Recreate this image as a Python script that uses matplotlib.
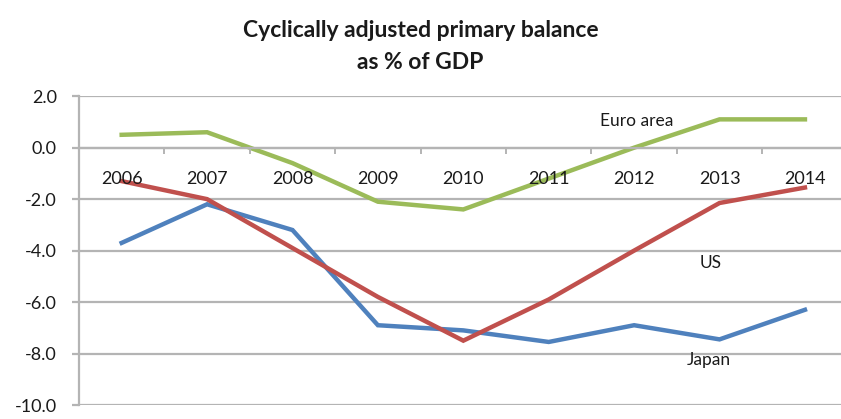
import numpy as np
import matplotlib
matplotlib.use('Agg')
import matplotlib.pyplot as plt

plt.rcParams['font.family'] = ['Lato', 'DejaVu Sans']

# Dane
years = ['2006', '2007', '2008', '2009', '2010', '2011', '2012', '2013', '2014']
euro_area = [0.5, 0.6, -0.6, -2.1, -2.4, -1.2, 0.0, 1.1, 1.1]
us = [-1.3, -2.0, -3.9, -5.8, -7.5, -5.9, -4.0, -2.15, -1.55]
japan = [-3.7, -2.2, -3.2, -6.9, -7.1, -7.55, -6.9, -7.45, -6.3]
yticks = [2.0, 0.0, -2.0, -4.0, -6.0, -8.0, -10.0]

grid_col = '#b4b4b4'
txt_col = '#1a1a1a'
x = np.arange(len(years))

fig = plt.figure(figsize=(8.41, 4.19), dpi=100)
ax = fig.add_axes([0.0939, 0.0334, 0.914, 0.737])

# Siatka pod seriami
for yv in yticks:
    ax.axhline(yv, color=grid_col, lw=1.6, zorder=0.5)

ax.plot(x, japan, color='#4f81bd', lw=3.2, zorder=2, solid_joinstyle='miter')
ax.plot(x, us, color='#c0504d', lw=3.2, zorder=2.1, solid_joinstyle='miter')
ax.plot(x, euro_area, color='#9bbb59', lw=3.2, zorder=2.2, solid_joinstyle='miter')

ax.set_xlim(-0.5, len(years) - 0.5)
ax.set_ylim(-10, 2)
ax.set_axisbelow(False)

# Osie
for s in ['top', 'right']:
    ax.spines[s].set_visible(False)
ax.spines['left'].set_color(grid_col)
ax.spines['left'].set_linewidth(1.6)
ax.spines['bottom'].set_position(('data', 0))
ax.spines['bottom'].set_color(grid_col)
ax.spines['bottom'].set_linewidth(1.6)

ax.set_yticks(yticks)
ax.set_yticklabels([f'{v:.1f}' for v in yticks], fontsize=13, color=txt_col)
ax.tick_params(axis='y', length=5, width=1.6, color=grid_col, pad=11)

ax.set_xticks(x)
ax.set_xticklabels(years, fontsize=13, color=txt_col)
ax.set_xticks(x[:-1] + 0.5, minor=True)
ax.tick_params(axis='x', which='major', length=0, pad=16.5)
ax.tick_params(axis='x', which='minor', length=4, width=1.4, color=grid_col)

# Etykiety serii
ax.text(6.03, 1.05, 'Euro area', fontsize=12.5, ha='center', va='center', color=txt_col)
ax.text(6.9, -4.47, 'US', fontsize=12.5, ha='center', va='center', color=txt_col)
ax.text(6.87, -8.27, 'Japan', fontsize=12.5, ha='center', va='center', color=txt_col)

fig.text(0.5, 0.928, 'Cyclically adjusted primary balance', fontsize=16.5, fontweight='bold',
         ha='center', va='center', color=txt_col)
fig.text(0.5, 0.85, 'as % of GDP', fontsize=16.5, fontweight='bold',
         ha='center', va='center', color=txt_col)

fig.savefig('out.png', dpi=100)
